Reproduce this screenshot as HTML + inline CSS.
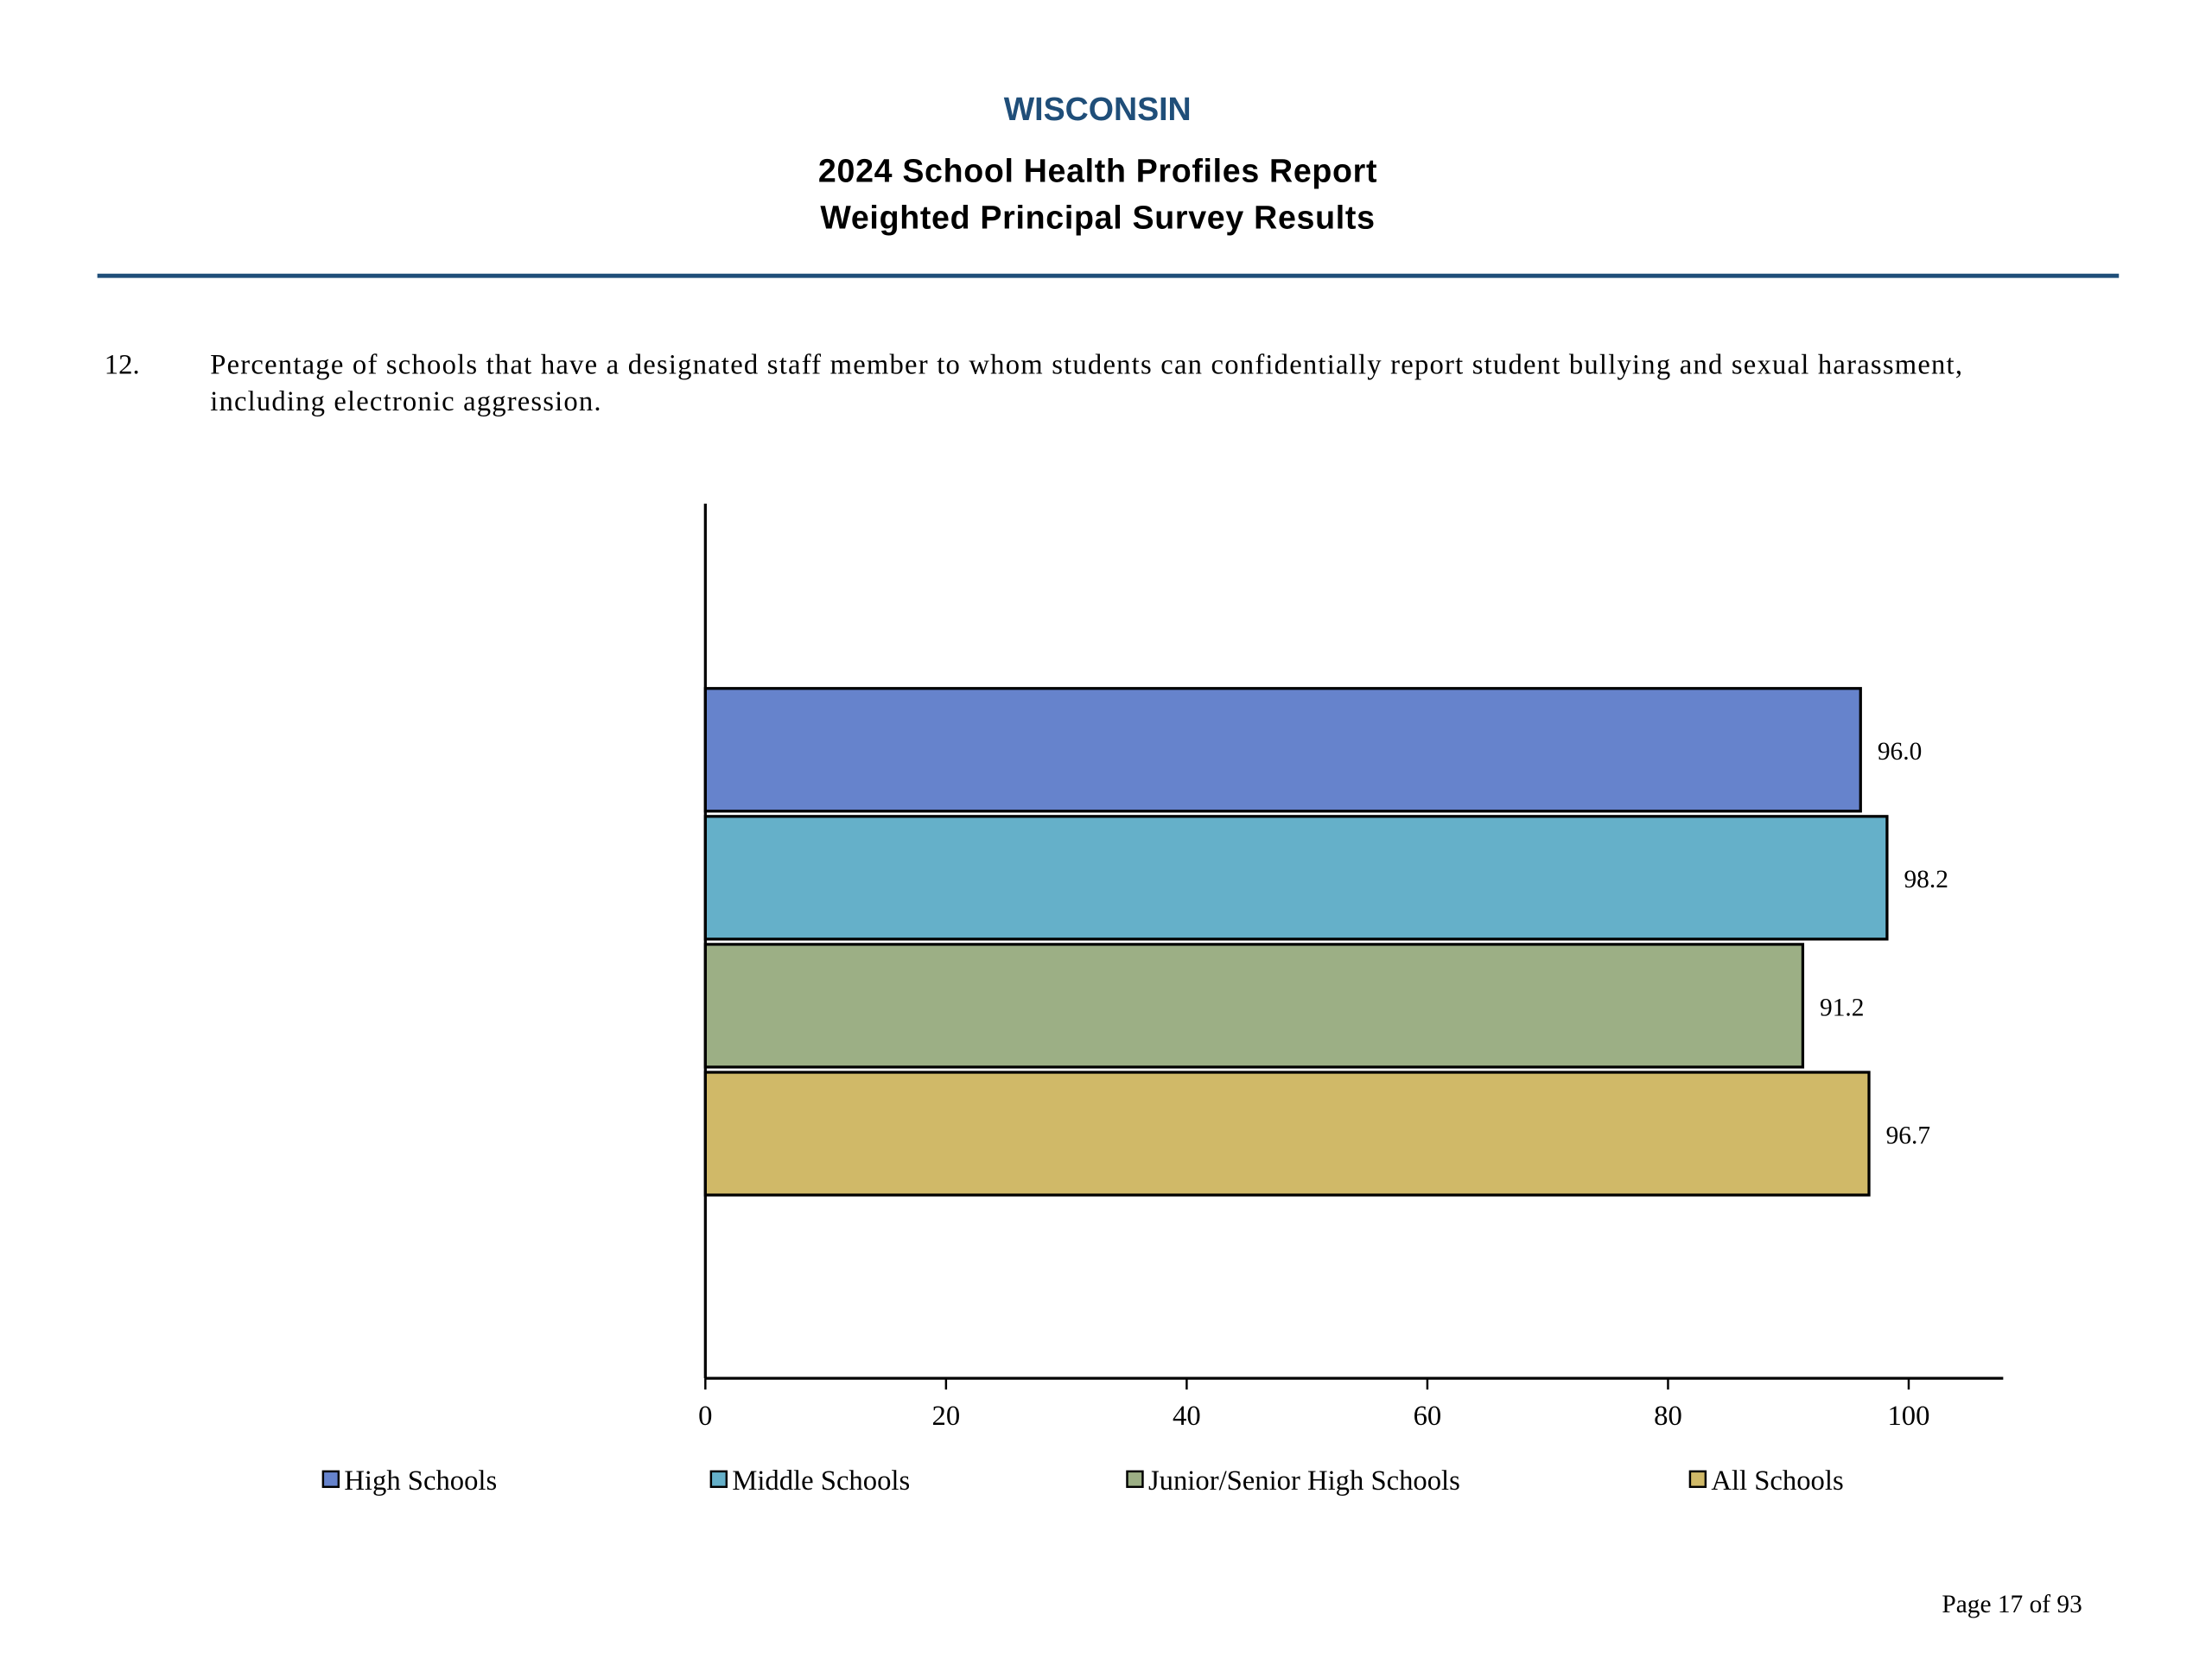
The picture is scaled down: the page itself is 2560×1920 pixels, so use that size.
<!DOCTYPE html>
<html><head><meta charset="utf-8"><style>
html,body{margin:0;padding:0;background:#fff;}
svg{display:block;}
.serif{font-family:"Liberation Serif",serif;}
.sans{font-family:"Liberation Sans",sans-serif;}
</style></head><body>
<svg id="page" width="2560" height="1920" viewBox="0 0 1568 1176" xmlns="http://www.w3.org/2000/svg">
<rect width="1568" height="1176" fill="#fff"/>
<text class="sans" x="778" y="85" text-anchor="middle" font-size="23" font-weight="bold" fill="#1f4e79">WISCONSIN</text>
<text class="sans" x="778" y="129" text-anchor="middle" font-size="23" font-weight="bold" fill="#000" textLength="396">2024 School Health Profiles Report</text>
<text class="sans" x="778" y="162" text-anchor="middle" font-size="23" font-weight="bold" fill="#000" textLength="393">Weighted Principal Survey Results</text>
<rect x="69" y="194" width="1433" height="3" fill="#1f4e79"/>
<text class="serif" x="74" y="265" font-size="20" fill="#000">12.</text>
<text class="serif" x="149" y="265" font-size="20" fill="#000" textLength="1242">Percentage of schools that have a designated staff member to whom students can confidentially report student bullying and sexual harassment,</text>
<text class="serif" x="149" y="291" font-size="20" fill="#000" textLength="277">including electronic aggression.</text>
<g id="chart"></g>
<text class="serif" x="1476" y="1143" text-anchor="end" font-size="18" fill="#000">Page 17 of 93</text>
</svg>
<script>
const categories = ["High Schools", "Middle Schools", "Junior/Senior High Schools", "All Schools"];
const values = [96.0, 98.2, 91.2, 96.7];
const valueLabels = ["96.0", "98.2", "91.2", "96.7"];
const ticks = [0, 20, 40, 60, 80, 100];
const colors = ["#6683cc", "#65b0c9", "#9caf85", "#d0b968"];

const NS = "http://www.w3.org/2000/svg";
const g = document.getElementById("chart");
const x0 = 500, x100 = 1353, axisY = 977, axisTop = 357, axisRight = 1420;
const xs = v => x0 + (x100 - x0) * v / 100;
const barTop = 488, barStep = 90.7, barH = 87;
const ys = i => barTop + i * barStep;
function mk(tag, attrs) {
  const e = document.createElementNS(NS, tag);
  for (const k in attrs) e.setAttribute(k, attrs[k]);
  g.appendChild(e);
  return e;
}
categories.forEach((c, i) => {
  const r = mk("rect", {x: xs(0), y: ys(i), width: xs(values[i]) - xs(0), height: barH, fill: colors[i], stroke: "#000", "stroke-width": 2});
  
  
  const t = mk("text", {x: xs(values[i]) + 12, y: ys(i) + barH / 2 + 7, "font-size": 18, "font-family": "Liberation Serif, serif"});
  t.textContent = valueLabels[i];
  
  
});
const ya = mk("line", {x1: x0, y1: axisTop, x2: x0, y2: axisY, stroke: "#000", "stroke-width": 2});


const xa = mk("line", {x1: x0, y1: axisY, x2: axisRight, y2: axisY, stroke: "#000", "stroke-width": 2});


ticks.forEach(v => {
  const tk = mk("line", {x1: xs(v), y1: axisY, x2: xs(v), y2: axisY + 8, stroke: "#000", "stroke-width": 1.5});
  
  
  const tl = mk("text", {x: xs(v), y: 1010, "text-anchor": "middle", "font-size": 20, "font-family": "Liberation Serif, serif"});
  tl.textContent = String(v);
  
  
});
const legendX = [229, 504, 799, 1198];
categories.forEach((c, i) => {
  const sq = mk("rect", {x: legendX[i], y: 1043, width: 11, height: 11, fill: colors[i], stroke: "#000", "stroke-width": 1.5});
  
  
  const lt = mk("text", {x: legendX[i] + 15, y: 1056, "font-size": 20, "font-family": "Liberation Serif, serif"});
  lt.textContent = c;
  
  
});
</script>
</body></html>
